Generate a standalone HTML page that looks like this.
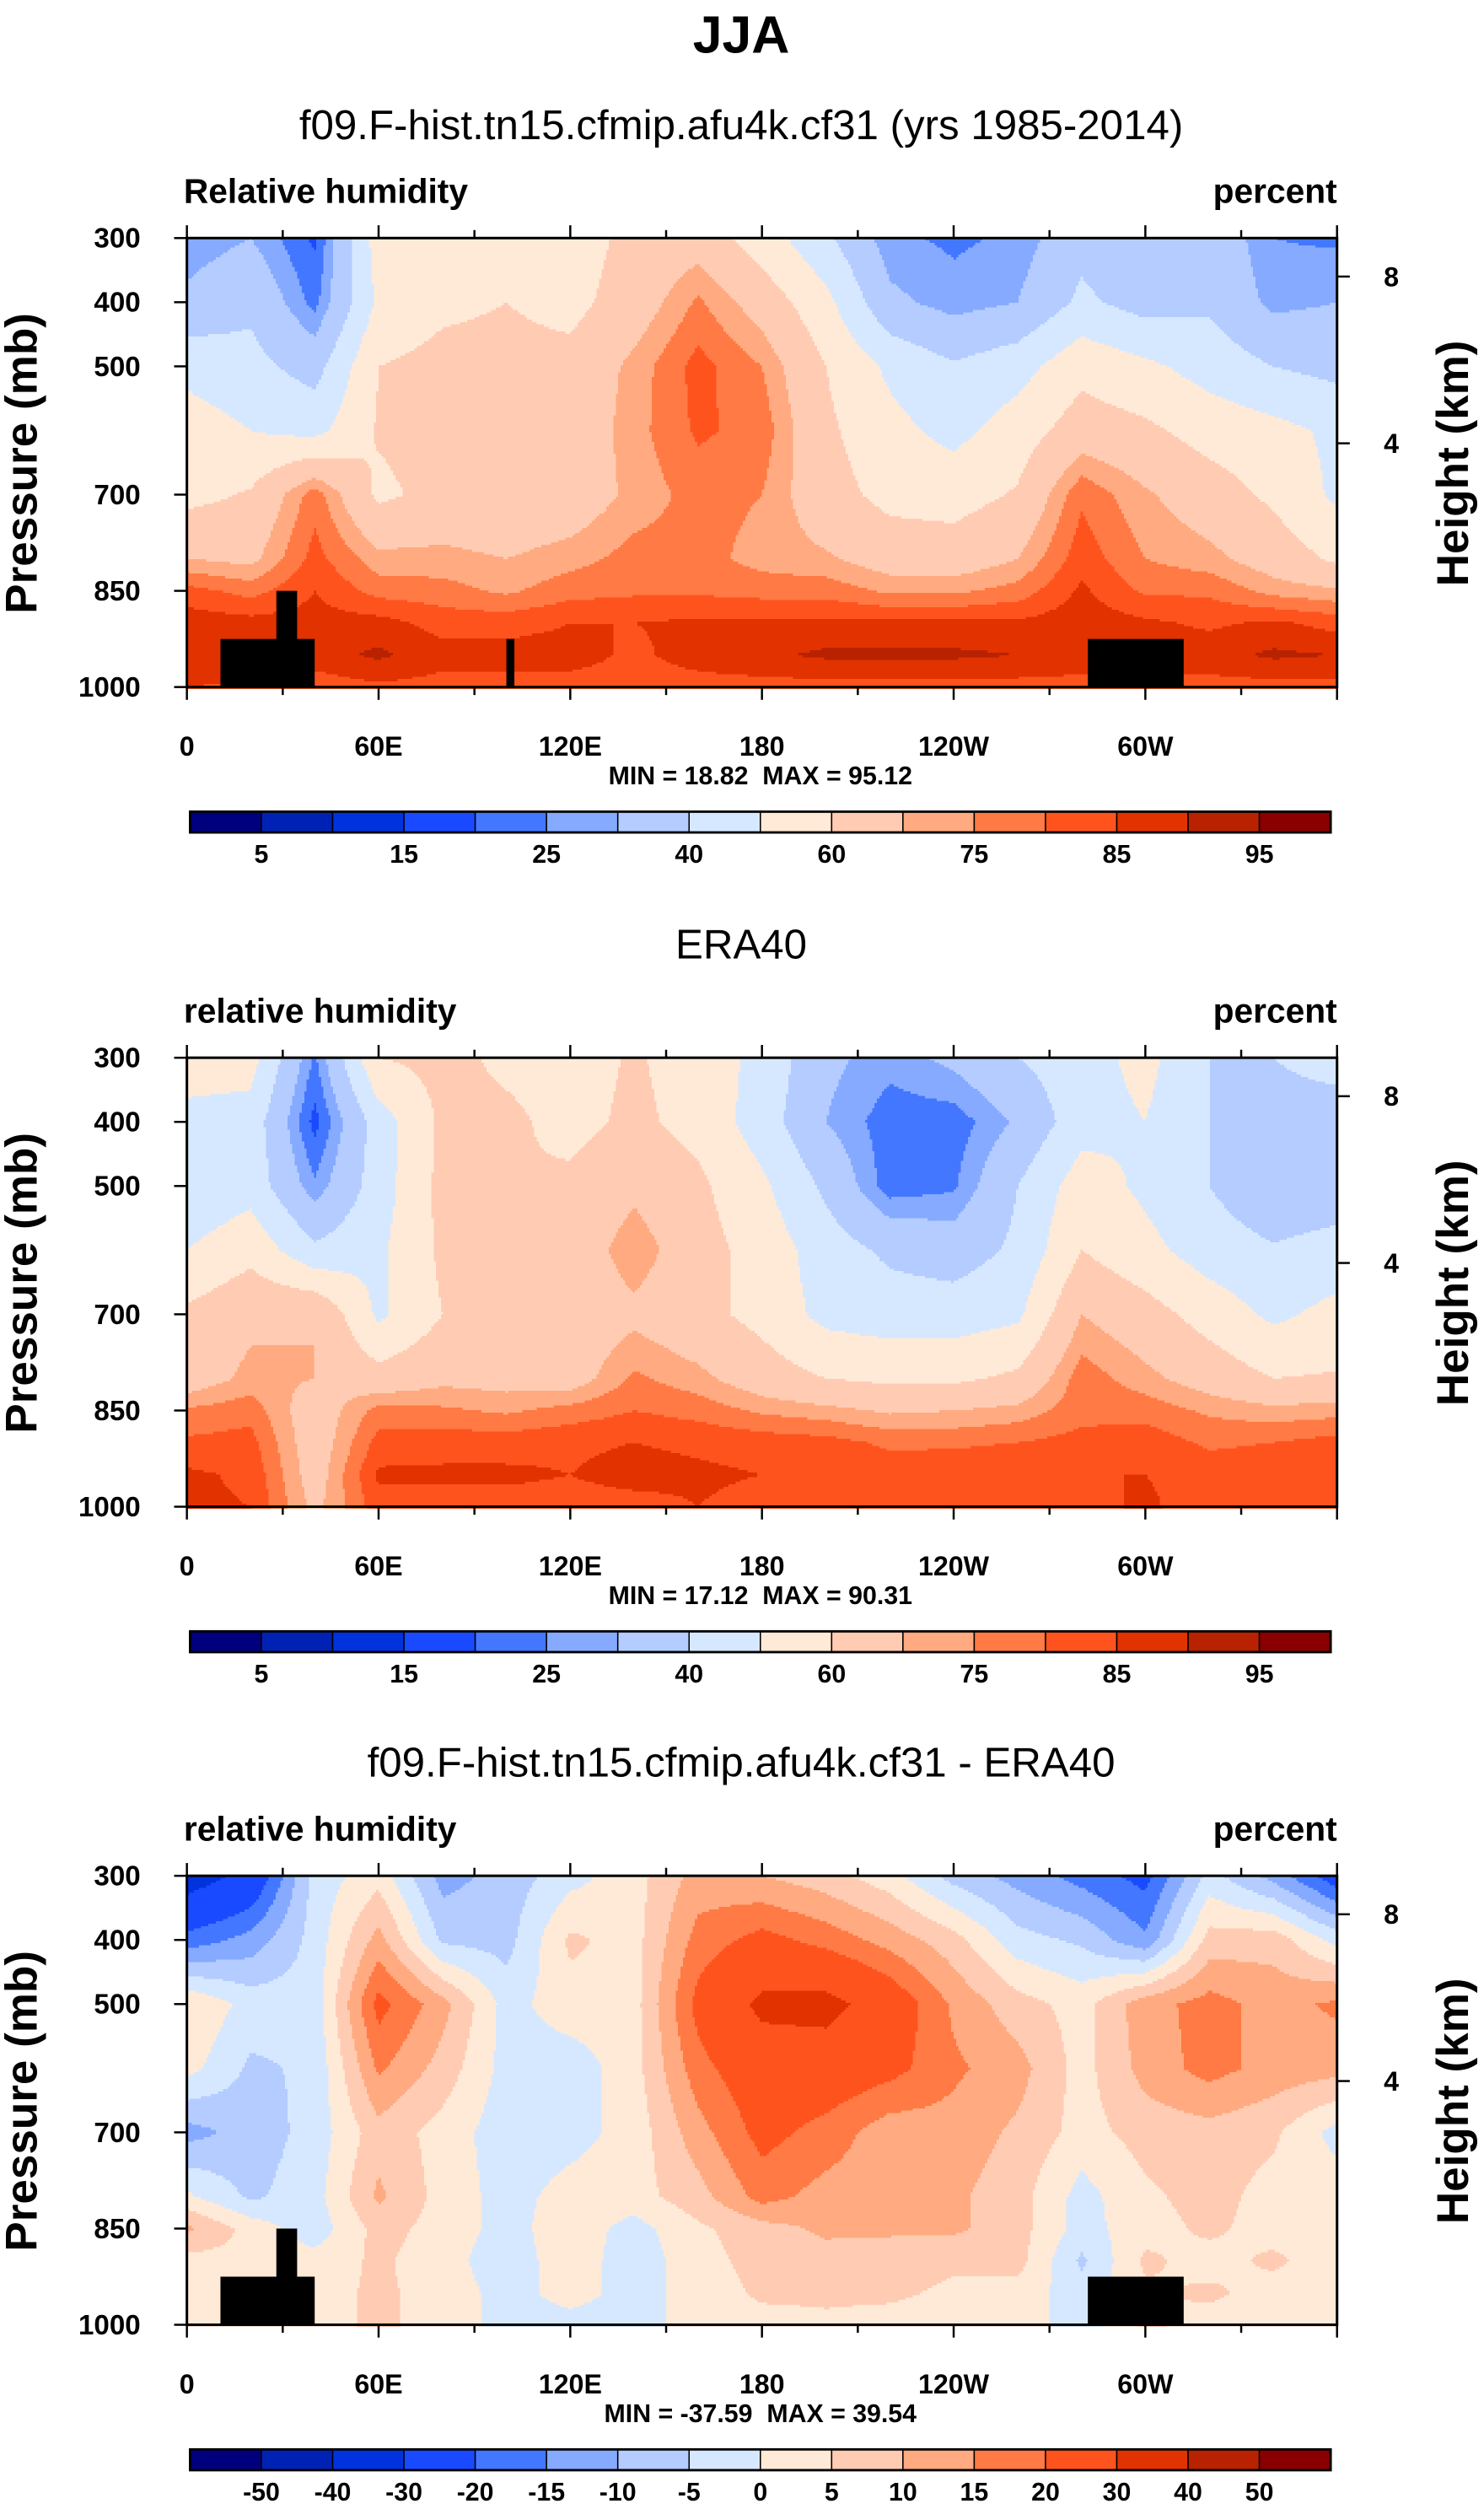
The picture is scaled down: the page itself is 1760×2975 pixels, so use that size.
<!DOCTYPE html>
<html><head><meta charset="utf-8"><style>
html,body{margin:0;padding:0;background:#fff}
svg{display:block}
text{font-family:"Liberation Sans",Arial,sans-serif;white-space:pre}
</style></head><body>
<svg id="fig" xmlns="http://www.w3.org/2000/svg" width="1760" height="2975" viewBox="0 0 929 1570.3" preserveAspectRatio="none">
<rect width="929" height="1571" fill="#fff"/>
<text x="464" y="33" font-size="33" font-weight="bold" text-anchor="middle">JJA</text>
</svg>
<script>
const lons=[0,20,40,60,80,100,120,140,160,180,200,220,240,260,280,300,320,340,360];
const pLevels=[300,400,500,600,700,800,850,900,950,1000];
const rhLevels=[5,10,15,20,25,30,40,50,60,70,75,80,85,90,95];
const diffLevels=[-50,-40,-30,-20,-15,-10,-5,0,5,10,15,20,30,40,50];
const palette=['#00007f','#0022b4','#0033dd','#1a4aff','#4477ff','#85aaff','#b4ccff','#d6e8ff','#ffead8','#ffccb3','#ffaa80','#ff7a44','#ff531e','#e23200','#b82200','#8a0000'];
const rhTickLabels=['','5','','15','','25','','40','','60','','75','','85','','95',''];
const diffTickLabels=['','-50','-40','-30','-20','-15','-10','-5','0','5','10','15','20','30','40','50',''];
const xTickLons=[0,60,120,180,240,300];
const xTickLabels=['0','60E','120E','180','120W','60W'];
const yTickP=[300,400,500,700,850,1000];
const hTickKm=[8,4];
const hTickP=[360,620];
const modelRH=[
[26,30,19,55,55,55,55,63,66,55,42,26,24,26,37,30,37,25,24],
[32,38,23,52,58,60,57,65,76,66,53,32,27,30,42,36,38,28,30],
[47,43,36,60,63,63,63,72,82,75,60,48,41,46,57,52,46,40,37],
[55,50,47,61,64,64,64,73,81,78,62,53,47,55,65,62,56,53,48],
[57,61,78,58,63,62,64,72,77,75,64,57,56,61,79,71,65,58,48],
[70,68,82,72,72,70,73,77,77,73,71,66,65,70,83,75,72,66,58],
[82,78,85,78,77,74,78,79,79,78,78,74,74,77,86,79,79,73,71],
[88,87,87,87,83,83,85,85,86,86,86,86,86,86,88,86,84,86,83],
[89,88,88,91,87,87,87,84,87,89,91,91,91,90,88,88,88,91,90],
[85,84,82,84,83,83,83,83,83,83,83,83,83,83,83,83,83,83,83]];
const eraRH=[
[55,54,24,60,63,58,56,61,56,47,32,27,32,40,46,53,40,40,46],
[47,46,18,45,62,62,57,62,57,45,30,22,22,31,46,50,40,34,32],
[42,46,26,45,63,60,62,68,62,52,38,22,24,40,55,48,40,32,34],
[50,57,42,48,62,62,64,74,64,56,45,38,35,42,60,53,45,41,44],
[62,68,70,48,60,63,64,68,63,57,47,45,45,48,70,64,56,48,53],
[65,72,70,64,68,67,66,76,72,65,60,58,58,62,78,72,66,60,61],
[76,78,65,77,76,74,77,80,78,74,72,69,70,72,78,78,74,72,73],
[81,82,65,82,83,83,84,85,84,83,82,79,79,80,82,83,79,80,82],
[86,84,66,86,86,86,85,87,86,85,83,83,84,85,85,85,83,84,85],
[86,85,68,83,83,83,83,83,85,83,83,83,83,85,83,86,82,83,83]];
const diffRH=[
[-35,-27,-3,3,-12,-8,-2,3,12,10,7,2,-7,-12,-17,-22,-3,-12,-24],
[-18,-13,-3,12,-6,-7,6,3,17,22,18,13,7,-3,-6,-14,7,8,-2],
[5,-2,-3,22,12,-2,3,3,22,32,33,25,14,7,3,13,17,13,16],
[2,-6,-4,16,8,-2,-3,3,18,25,25,22,16,12,3,12,17,13,12],
[-12,-8,-3,8,3,-3,-2,2,13,22,18,12,13,9,3,7,8,6,-2],
[1,-6,-2,11,3,-2,2,3,8,17,13,12,11,7,-2,4,7,3,3],
[11,3,-3,7,3,-2,3,-2,4,8,11,11,11,7,-2,3,6,3,3],
[3,4,2,6,2,-3,3,-3,3,7,8,7,6,7,-6,6,3,6,2],
[2,2,3,6,3,-2,2,-2,2,6,6,6,4,3,-3,4,6,3,3],
[2,2,3,6,3,-2,-2,-2,2,3,4,3,3,3,-3,6,3,2,2]];
const landModel=[[10.5,40,925],[28,34.5,850],[282,312,925],[100,102.5,925]];
const landDiff=[[10.5,40,925],[28,34.5,850],[282,312,925]];

const NS='http://www.w3.org/2000/svg';
const svg=document.getElementById('fig');
const PX0=117,PW=720,PH=281;
function xS(lon){return PX0+lon*PW/360;}
function mk(tag,attrs,parent){const e=document.createElementNS(NS,tag);for(const k in attrs)e.setAttribute(k,attrs[k]);(parent||svg).appendChild(e);return e;}
function txt(s,x,y,size,weight,anchor,parent){const t=mk('text',{x:x,y:y,'font-size':size,'font-weight':weight,'text-anchor':anchor},parent);t.textContent=s;return t;}
function interp(data,lon,p){
  let i=Math.min(Math.floor(lon/20),lons.length-2);let fx=(lon-lons[i])/(lons[i+1]-lons[i]);
  let j=0;while(j<pLevels.length-2&&p>pLevels[j+1])j++;
  let fy=(p-pLevels[j])/(pLevels[j+1]-pLevels[j]);fy=Math.max(0,Math.min(1,fy));
  const a=data[j][i],b=data[j][i+1],c=data[j+1][i],d=data[j+1][i+1];
  return (a*(1-fx)+b*fx)*(1-fy)+(c*(1-fx)+d*fx)*fy;
}
function bin(v,levels){let k=0;while(k<levels.length&&v>=levels[k])k++;return k;}

function panel(y0,title,label,data,levels,tickLabels,land,minmax,pname){
  const yS=p=>y0+(p-300)/700*PH;
  const g=mk('g',{});
  
  
  const t1=txt(title,464,y0-62,26,'normal','middle',g);
  
  
  const t2=txt(label,115,y0-22,21.5,'bold','start',g);
  
  
  const t3=txt('percent',837,y0-22,21.5,'bold','end',g);
  
  
  const fill=mk('g',{'shape-rendering':'crispEdges'},g);
  
  
  const step=1.5;
  for(let py=0;py<PH;py+=step){
    const p=300+(py+step/2)/PH*700;
    let start=0,cur=-1;
    for(let px=0;px<=PW;px+=step){
      let k=-2;
      if(px<PW){const lon=(px+step/2)*360/PW;k=bin(interp(data,lon,p),levels);}
      if(k!==cur){
        if(cur>=0){mk('rect',{x:PX0+start,y:y0+py,width:px-start+0.3,height:step+0.3,fill:palette[cur]},fill);}
        start=px;cur=k;
      }
    }
  }
  land.forEach(b=>{
    const r=mk('rect',{x:xS(b[0]),y:yS(b[2]),width:xS(b[1])-xS(b[0]),height:yS(1000)-yS(b[2]),fill:'#000'},g);
    
    
  });
  const fr=mk('rect',{x:PX0,y:y0,width:PW,height:PH,fill:'none',stroke:'#000','stroke-width':1.6},g);
  
  
  for(let lon=0;lon<=360;lon+=30){
    const L=lon%60===0?8:5;
    mk('line',{x1:xS(lon),x2:xS(lon),y1:y0,y2:y0-L,stroke:'#000','stroke-width':1.3},g);
    mk('line',{x1:xS(lon),x2:xS(lon),y1:y0+PH,y2:y0+PH+L,stroke:'#000','stroke-width':1.3},g);
  }
  xTickLons.forEach((lon,i)=>{
    const t=txt(xTickLabels[i],xS(lon),y0+PH+43,17,'bold','middle',g);
    
    
  });
  yTickP.forEach(p=>{
    mk('line',{x1:PX0,x2:PX0-8,y1:yS(p),y2:yS(p),stroke:'#000','stroke-width':1.3},g);
    const t=txt(String(p),88,yS(p)+6,17.5,'bold','end',g);
    
    
  });
  hTickP.forEach((p,i)=>{
    mk('line',{x1:PX0+PW,x2:PX0+PW+8,y1:yS(p),y2:yS(p),stroke:'#000','stroke-width':1.3},g);
    const t=txt(String(hTickKm[i]),871,yS(p)+6,17,'bold','middle',g);
    
    
  });
  const ya=txt('Pressure (mb)',0,0,28,'bold','middle',g);
  ya.setAttribute('transform','translate(23,'+(y0+141)+') rotate(-90)');
  
  
  const ha=txt('Height (km)',0,0,28,'bold','middle',g);
  ha.setAttribute('transform','translate(919,'+(y0+141)+') rotate(-90)');
  
  
  const mm=txt(minmax,476,y0+PH+61,16,'bold','middle',g);
  
  
  const cb=mk('g',{},g);
  
  
  const cx0=119,cw=714/16,cy=y0+359;
  palette.forEach((c,i)=>{
    const r=mk('rect',{x:cx0+i*cw,y:cy,width:cw,height:13,fill:c,stroke:'#000','stroke-width':0.8},cb);
    
    
  });
  mk('rect',{x:cx0,y:cy,width:714,height:13,fill:'none',stroke:'#000','stroke-width':1.5},cb);
  tickLabels.forEach((s,i)=>{
    if(!s)return;
    const t=txt(s,cx0+i*cw,cy+32,16,'bold','middle',cb);
    
    
  });
}
panel(149,'f09.F-hist.tn15.cfmip.afu4k.cf31 (yrs 1985-2014)','Relative humidity',modelRH,rhLevels,rhTickLabels,landModel,'MIN = 18.82  MAX = 95.12','model');
panel(662,'ERA40','relative humidity',eraRH,rhLevels,rhTickLabels,[],'MIN = 17.12  MAX = 90.31','era40');
panel(1174,'f09.F-hist.tn15.cfmip.afu4k.cf31 - ERA40','relative humidity',diffRH,diffLevels,diffTickLabels,landDiff,'MIN = -37.59  MAX = 39.54','difference');
</script>
</body></html>
